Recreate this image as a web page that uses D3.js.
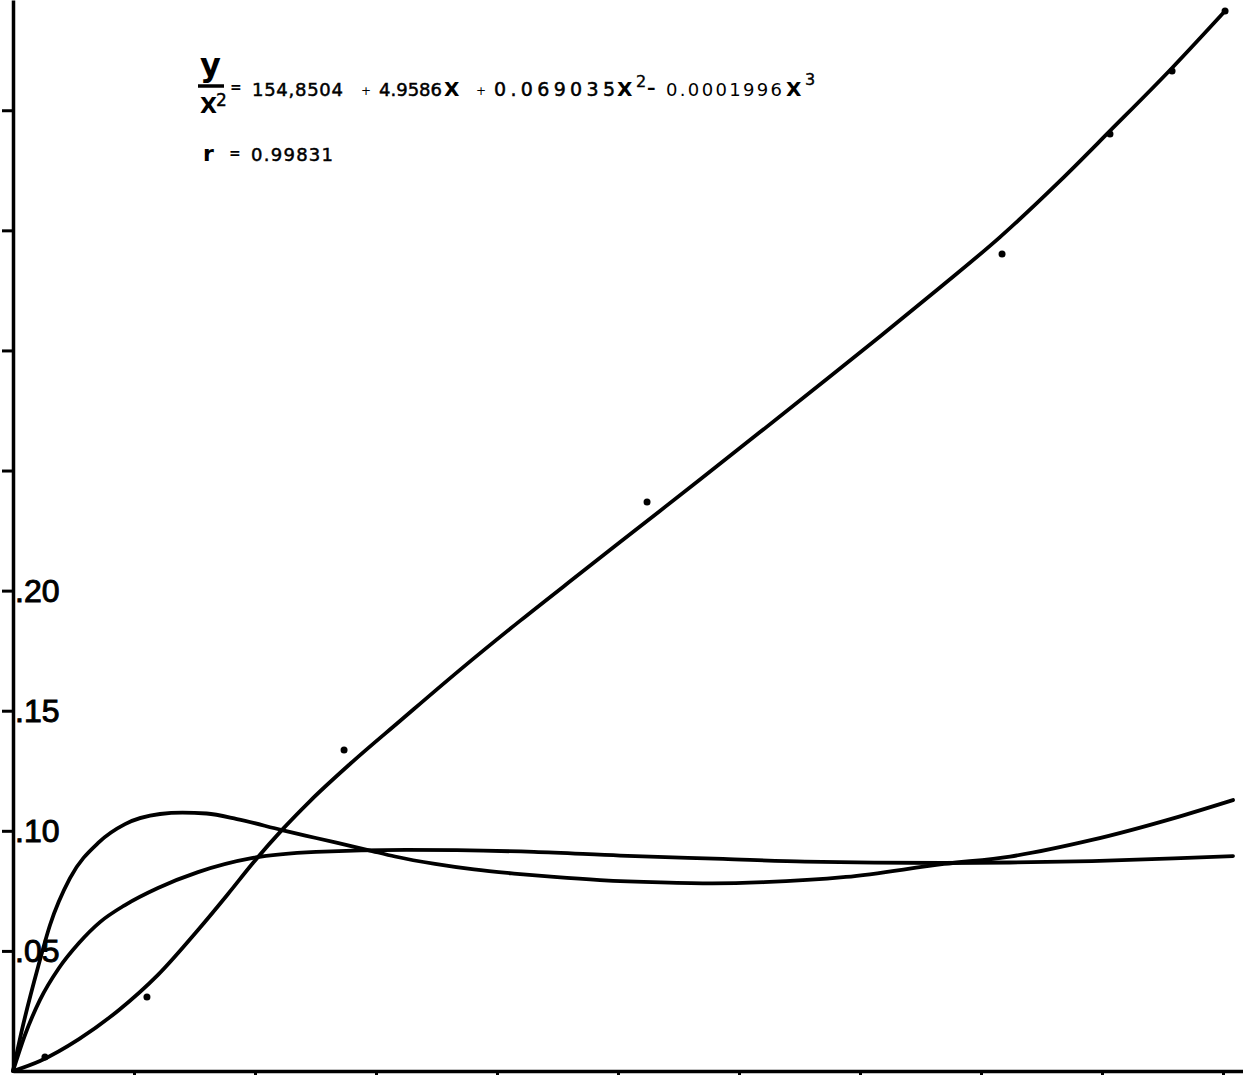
<!DOCTYPE html>
<html>
<head>
<meta charset="utf-8">
<script src="https://cdn.jsdelivr.net/npm/d3@7"></script>
<style>
    html, body { margin: 0; padding: 0; background: #fff; }
    svg { display: block; }
    text { font-family: "Liberation Sans", Arial, Helvetica, sans-serif; fill: #000; }
    .eq text { font-family: "DejaVu Sans", "Liberation Sans", sans-serif; }
</style>
</head>
<body>
<div id="chart"></div>
<script>
// rising curve (fit y/x^2 = ...) and its measured points
var xA = [0, 0.223, 0.545, 0.876, 1.198, 1.529, 1.777, 1.983, 2.231, 2.455, 2.785, 3.198, 3.694, 4.190, 4.686, 5.182, 5.678, 6.174, 6.669, 7.165, 7.661, 8.157, 8.653, 9.066, 9.579, 10.017];
var yA = [0, 0.0042, 0.0133, 0.0254, 0.0400, 0.0587, 0.0737, 0.0866, 0.1008, 0.1124, 0.1278, 0.1457, 0.1670, 0.1874, 0.2071, 0.2267, 0.2463, 0.2660, 0.2858, 0.3058, 0.3262, 0.3472, 0.3706, 0.3914, 0.4176, 0.4413];

// curve with the hump near x = 1.4
var xB = [0, 0.074, 0.207, 0.306, 0.471, 0.711, 0.926, 1.215, 1.400, 1.600, 1.851, 2.223, 2.504, 2.934, 3.157, 3.488, 3.810, 4.140, 4.471, 4.851, 5.355, 5.780, 6.207, 6.884, 7.694, 8.240, 8.917, 9.595, 10.083];
var yB = [0, 0.0171, 0.0433, 0.0608, 0.0803, 0.0953, 0.1028, 0.1070, 0.1076, 0.1072, 0.1049, 0.1003, 0.0970, 0.0920, 0.0893, 0.0862, 0.0839, 0.0822, 0.0808, 0.0795, 0.0785, 0.0781, 0.0786, 0.0808, 0.0862, 0.0893, 0.0962, 0.1053, 0.1128];

// saturating curve
var xC = [0, 0.099, 0.223, 0.380, 0.545, 0.719, 0.926, 1.198, 1.529, 1.983, 2.504, 3.250, 4.306, 5.017, 5.868, 6.545, 7.694, 8.240, 8.917, 9.595, 10.083];
var yC = [0, 0.0150, 0.0296, 0.0429, 0.0533, 0.0620, 0.0691, 0.0762, 0.0828, 0.0887, 0.0912, 0.0921, 0.0912, 0.0897, 0.0883, 0.0872, 0.0866, 0.0868, 0.0874, 0.0885, 0.0895];

// observed points
var dotX = [0.264, 1.107, 2.736, 5.240, 8.174, 9.066, 9.579, 10.017];
var dotY = [0.0058, 0.0308, 0.1336, 0.2369, 0.3401, 0.3901, 0.4163, 0.4413];

var xTicks = [1, 2, 3, 4, 5, 6, 7, 8, 9, 10];
var yTicks = [0.05, 0.10, 0.15, 0.20, 0.25, 0.30, 0.35, 0.40];
var yLabels = [0.05, 0.10, 0.15, 0.20];

var width = 1243, height = 1075;

var svg = d3.select('#chart').append('svg')
    .attr('width', width)
    .attr('height', height);

var x = d3.scaleLinear().domain([0, 1230 / 121]).range([13, 1243]);
var y = d3.scaleLinear().domain([0, 0.4459]).range([1071, 0]);

// axes
svg.append('g')
    .attr('transform', 'translate(' + x(0) + ',0)')
    .call(d3.axisLeft(y).tickValues(yTicks).tickSize(11).tickSizeOuter(0).tickFormat(''));

svg.append('g')
    .attr('transform', 'translate(0,' + y(0) + ')')
    .call(d3.axisBottom(x).tickValues(xTicks).tickSize(8).tickSizeOuter(0).tickFormat(''));

svg.selectAll('.domain').attr('stroke', '#000').attr('stroke-width', 3.5);
svg.selectAll('.tick line').attr('stroke', '#000').attr('stroke-width', 3);

svg.selectAll('.y-label')
    .data(yLabels)
    .enter()
    .append('text')
    .attr('class', 'y-label')
    .attr('x', x(0) + 2)
    .attr('y', function(d) { return y(d) + 11; })
    .attr('font-size', '32px')
    .attr('stroke', '#000')
    .attr('stroke-width', 1)
    .text(function(d) { return d3.format('.2f')(d).slice(1); });

// curves
var line = d3.line()
    .x(function(d) { return x(d[0]); })
    .y(function(d) { return y(d[1]); })
    .curve(d3.curveMonotoneX);

[[xA, yA], [xB, yB], [xC, yC]].forEach(function(s) {
    svg.append('path')
        .datum(d3.zip(s[0], s[1]))
        .attr('fill', 'none')
        .attr('stroke', '#000')
        .attr('stroke-width', 3.8)
        .attr('stroke-linecap', 'round')
        .attr('stroke-linejoin', 'round')
        .attr('d', line);
});

svg.selectAll('.dot')
    .data(d3.zip(dotX, dotY))
    .enter()
    .append('circle')
    .attr('class', 'dot')
    .attr('cx', function(d) { return x(d[0]); })
    .attr('cy', function(d) { return y(d[1]); })
    .attr('r', 3.5)
    .attr('fill', '#000');

// equation
var eq = svg.append('g').attr('class', 'eq');

eq.append('text').attr('x', 200).attr('y', 76).attr('font-size', '32px').attr('font-weight', 'bold').text('y');
eq.append('line').attr('x1', 198).attr('x2', 224).attr('y1', 86).attr('y2', 86).attr('stroke', '#000').attr('stroke-width', 3.5);
eq.append('text').attr('x', 200).attr('y', 113).attr('font-size', '22px').attr('font-weight', 'bold').text('X');
eq.append('text').attr('x', 216).attr('y', 106).attr('font-size', '17px').attr('stroke', '#000').attr('stroke-width', 0.4).text('2');

eq.append('text').attr('x', 230).attr('y', 92).attr('font-size', '14px').attr('font-weight', 'bold').text('=');
eq.append('text').attr('x', 252).attr('y', 96).attr('font-size', '18px').attr('stroke', '#000').attr('stroke-width', 0.5).attr('textLength', 91).text('154,8504');
eq.append('text').attr('x', 361).attr('y', 95).attr('font-size', '12px').text('+');
eq.append('text').attr('x', 379).attr('y', 96).attr('font-size', '18px').attr('stroke', '#000').attr('stroke-width', 0.5).attr('textLength', 63).text('4.9586');
eq.append('text').attr('x', 444).attr('y', 96).attr('font-size', '20px').attr('font-weight', 'bold').text('X');
eq.append('text').attr('x', 476).attr('y', 95).attr('font-size', '12px').text('+');
eq.append('text').attr('x', 494).attr('y', 96).attr('font-size', '19px').attr('stroke', '#000').attr('stroke-width', 0.5).attr('textLength', 121).text('0.069035');
eq.append('text').attr('x', 617).attr('y', 96).attr('font-size', '20px').attr('font-weight', 'bold').text('X');
eq.append('text').attr('x', 636).attr('y', 87).attr('font-size', '16px').attr('stroke', '#000').attr('stroke-width', 0.4).text('2');
eq.append('text').attr('x', 647).attr('y', 94).attr('font-size', '17px').attr('font-weight', 'bold').text('\u2013');
eq.append('text').attr('x', 666).attr('y', 96).attr('font-size', '18px').attr('textLength', 116).text('0.0001996');
eq.append('text').attr('x', 786).attr('y', 96).attr('font-size', '20px').attr('font-weight', 'bold').text('X');
eq.append('text').attr('x', 805).attr('y', 85).attr('font-size', '16px').attr('stroke', '#000').attr('stroke-width', 0.4).text('3');

eq.append('text').attr('x', 203).attr('y', 161).attr('font-size', '22px').attr('font-weight', 'bold').text('r');
eq.append('text').attr('x', 229).attr('y', 158).attr('font-size', '14px').attr('font-weight', 'bold').text('=');
eq.append('text').attr('x', 251).attr('y', 161).attr('font-size', '18px').attr('stroke', '#000').attr('stroke-width', 0.5).attr('textLength', 82).text('0.99831');
</script>
</body>
</html>
